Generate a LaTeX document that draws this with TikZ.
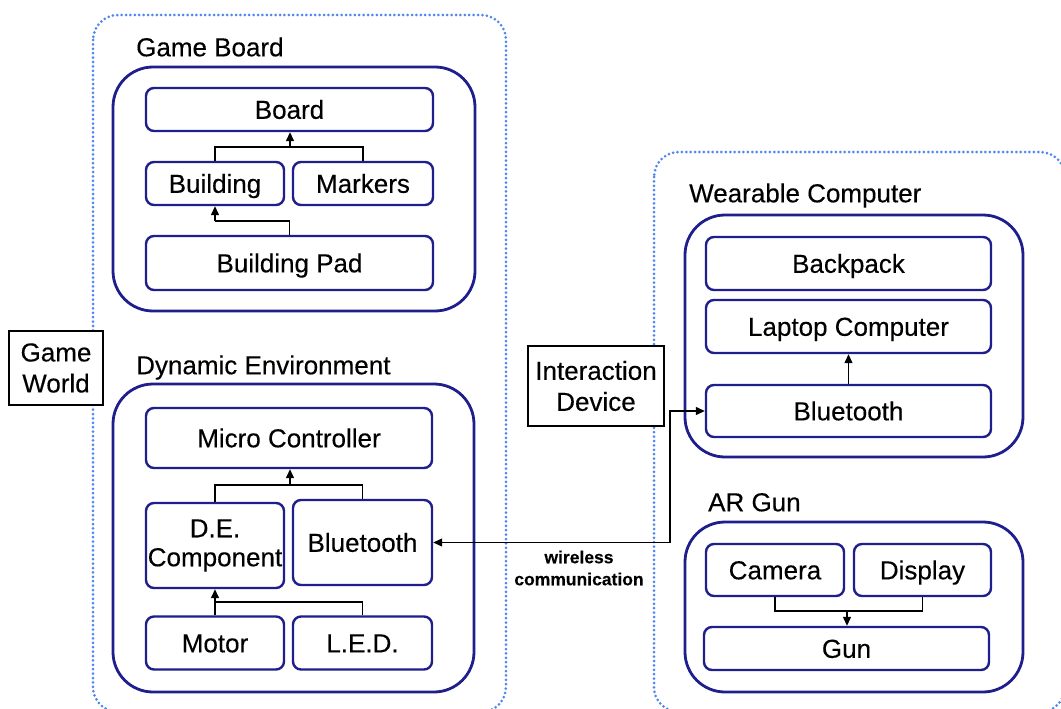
\documentclass[tikz,border=0pt]{standalone}
\usepackage{fontspec}
\setmainfont{Liberation Sans}[FakeBold=0.25]
\usetikzlibrary{arrows.meta}

\definecolor{navy}{RGB}{30,30,140}
\definecolor{dotblue}{RGB}{80,135,240}

\tikzset{
  zone/.style={draw=dotblue, line width=3pt, line cap=round,
    dash pattern=on 0pt off 4.4pt, rounded corners=25pt},
  panel/.style={draw=navy, line width=2.8pt, fill=white, rounded corners=40pt,
    inner sep=0pt, outer sep=0pt},
  part/.style={draw=navy, line width=2.4pt, fill=white, rounded corners=8pt,
    inner sep=0pt, outer sep=1.2pt, font=\fontsize{26}{29}\selectfont, align=center},
  oneline/.style={part, text height=18.6pt, text depth=0pt},
  plain/.style={draw=black, line width=1.3pt, fill=white, inner sep=0pt,
    font=\fontsize{26}{31}\selectfont, align=center},
  title/.style={anchor=west, inner sep=0pt, text height=18.6pt, text depth=0pt,
    font=\fontsize{26}{31}\selectfont},
  conn/.style={draw=black, line width=1.3pt},
  flow/.style={conn, -{Triangle[length=9pt,width=8pt]}},
}

\begin{document}
\begin{tikzpicture}[x=1pt,y=-1pt]
\useasboundingbox (0,0) rectangle (1061,709);

% dotted zones
\draw[zone] (93,15) rectangle (506,712);
\draw[zone] (654,152) rectangle (1065,712);

% ---------- Game Board ----------
\node[title] (gbt) at (136,47) {Game Board};
\node[panel, minimum width=362pt, minimum height=244pt] (gbp) at (294,189) {};
\node[oneline, minimum width=287pt, minimum height=43pt] (board) at (289.5,109.5) {Board};
\node[oneline, minimum width=138pt, minimum height=43pt] (building) at (215,183.5) {Building};
\node[oneline, minimum width=140pt, minimum height=43pt] (markers) at (363,183.5) {Markers};
\node[oneline, minimum width=287pt, minimum height=54pt] (pad) at (289.5,263) {Building Pad};

\coordinate (jb) at (290,147);
\coordinate (jp) at (215,221);
\draw[conn] (building.north) |- (jb) -| (markers.north);
\draw[flow] (jb) -- (jb |- board.south);
\draw[conn] (pad.north) |- (jp);
\draw[flow] (jp) -- (building.south);

% ---------- Game World ----------
\node[plain, minimum width=94pt, minimum height=74pt] (gw) at (56,368) {Game\\World};

% ---------- Dynamic Environment ----------
\node[title] (det) at (136,365) {Dynamic Environment};
\node[panel, minimum width=361pt, minimum height=308pt] (dep) at (293.5,538) {};
\node[oneline, minimum width=286pt, minimum height=60pt] (micro) at (289,438) {Micro Controller};
\node[part, minimum width=138pt, minimum height=85pt] (de) at (215,545.5) {D.E.\\Component};
\node[oneline, minimum width=139pt, minimum height=85pt] (dbt) at (362.5,542.5) {Bluetooth};
\node[oneline, minimum width=138pt, minimum height=53pt] (motor) at (215,643) {Motor};
\node[oneline, minimum width=139pt, minimum height=53pt] (led) at (362.5,643) {L.E.D.};

\coordinate (jd) at (290,485);
\coordinate (jm) at (215,602);
\draw[conn] (de.north) |- (jd) -| (dbt.north);
\draw[flow] (jd) -- (jd |- micro.south);
\draw[conn] (led.north) |- (jm);
\draw[flow] (motor.north) -- (de.south);

% ---------- Interaction Device ----------
\node[plain, minimum width=136pt, minimum height=80pt] (idev) at (596,386) {Interaction\\Device};

% ---------- Wearable Computer ----------
\node[title] (wct) at (689,193) {Wearable Computer};
\node[panel, minimum width=338pt, minimum height=242pt] (wcp) at (854,336) {};
\node[oneline, minimum width=285pt, minimum height=53pt] (backpack) at (848.5,263.5) {Backpack};
\node[oneline, minimum width=285pt, minimum height=53pt] (laptop) at (848.5,326.5) {Laptop Computer};
\node[oneline, minimum width=285pt, minimum height=52pt] (wbt) at (848.5,411) {Bluetooth};
\draw[flow] (wbt.north) -- (laptop.south);

% ---------- AR Gun ----------
\node[title] (argt) at (708,502) {AR Gun};
\node[panel, minimum width=338pt, minimum height=170pt] (argp) at (854,607) {};
\node[oneline, minimum width=138pt, minimum height=52pt] (camera) at (775,570) {Camera};
\node[oneline, minimum width=137pt, minimum height=52pt] (display) at (922.5,570) {Display};
\node[oneline, minimum width=285pt, minimum height=43pt] (gun) at (846.5,648.5) {Gun};

\coordinate (jg) at (847,611);
\draw[conn] (camera.south) |- (jg) -| (display.south);
\draw[flow] (jg) -- (jg |- gun.north);

% ---------- wireless link ----------
\coordinate (wl) at (670,542.5);
\draw[conn, {Triangle[length=9pt,width=8pt]}-{Triangle[length=9pt,width=8pt]}]
  (dbt.east) -- (wl) |- (wbt.west);
\node[inner sep=0pt, align=center, font=\bfseries\fontsize{17.5}{22}\selectfont] (wtxt)
  at (579,568) {wireless\\communication};

\end{tikzpicture}
\end{document}
